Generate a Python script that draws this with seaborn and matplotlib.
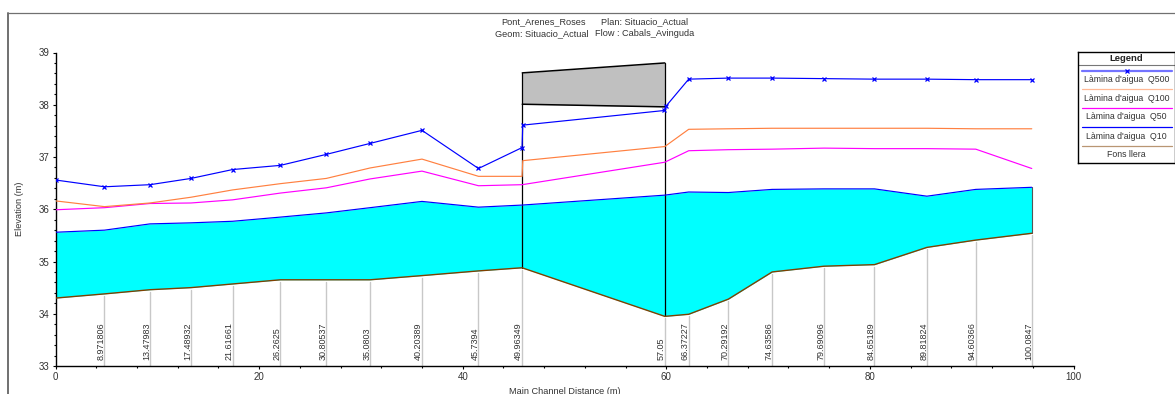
import matplotlib
matplotlib.use('Agg')
import matplotlib.pyplot as plt
import pandas as pd
import seaborn as sns
from matplotlib.ticker import MultipleLocator

# channel distance of each section, two entries either side of the bridge
dist_q500 = [0, 4.81, 9.28, 13.31, 17.4, 22.1, 26.6, 30.9, 36.0, 41.55, 45.83, 45.9,
             59.8, 60.0, 62.2, 66.1, 70.4, 75.5, 80.45, 85.6, 90.4, 95.9]
q500 = [36.56, 36.43, 36.47, 36.59, 36.76, 36.84, 37.05, 37.26, 37.51, 36.78, 37.18, 37.61,
        37.89, 37.98, 38.49, 38.51, 38.51, 38.5, 38.49, 38.49, 38.48, 38.48]

dist_q100 = [0, 4.81, 9.28, 13.31, 17.4, 22.1, 26.6, 30.9, 36.0, 41.55, 45.83, 45.9,
             59.85, 62.2, 66.1, 70.4, 75.5, 80.45, 85.6, 90.4, 95.9]
q100 = [36.16, 36.05, 36.12, 36.23, 36.37, 36.49, 36.59, 36.79, 36.96, 36.63, 36.63, 36.93,
        37.2, 37.53, 37.54, 37.55, 37.55, 37.55, 37.55, 37.54, 37.54]

dist_main = [0, 4.81, 9.28, 13.31, 17.4, 22.1, 26.6, 30.9, 36.0, 41.55, 45.83,
             59.85, 62.2, 66.1, 70.4, 75.5, 80.45, 85.6, 90.4, 95.9]
q50 = [35.99, 36.03, 36.11, 36.12, 36.18, 36.31, 36.41, 36.58, 36.73, 36.45, 36.47,
       36.9, 37.12, 37.14, 37.15, 37.17, 37.16, 37.16, 37.15, 36.78]
q10 = [35.56, 35.6, 35.72, 35.74, 35.77, 35.85, 35.93, 36.03, 36.15, 36.04, 36.08,
       36.27, 36.33, 36.32, 36.38, 36.39, 36.39, 36.25, 36.38, 36.42]
ground = [34.3, 34.38, 34.46, 34.5, 34.57, 34.65, 34.65, 34.65, 34.73, 34.82, 34.88,
          33.95, 33.99, 34.28, 34.8, 34.91, 34.94, 35.27, 35.41, 35.54]

# river stations written along the bottom, first section has none
station_labels = ['8.971806', '13.47983', '17.48932', '21.61661', '26.2625', '30.80537',
                  '35.0803', '40.20389', '45.7394', '49.96349', '57.05', '66.37227',
                  '70.29192', '74.63586', '79.69096', '84.65189', '89.81824', '94.60366',
                  '100.0847']

bridge_x = [45.85, 59.85]
deck_top = [38.61, 38.8]
deck_bottom = [38.01, 37.96]

series_names = ["Làmina d'aigua  Q500", "Làmina d'aigua  Q100", "Làmina d'aigua  Q50",
                "Làmina d'aigua  Q10", 'Fons llera']
series_colors = ['#0000ff', '#ff8040', '#ff00ff', '#0000ff', '#804000']

W, H = 1175, 394
sns.set_theme(style='white')
plt.rcParams['font.family'] = ['Liberation Sans', 'DejaVu Sans']
text_col = '#333333'

fig = plt.figure(figsize=(W / 100, H / 100), dpi=100)
ax = fig.add_axes([55.5 / W, 1 - 366 / H, 1018 / W, 313.5 / H])

# water surface fill and bed
ax.fill_between(dist_main, ground, q10, color='#00ffff', lw=0, zorder=1)
df = pd.DataFrame({'x': dist_main, 'q50': q50, 'q10': q10, 'ground': ground})
sns.lineplot(data=df, x='x', y='q50', color=series_colors[2], lw=0.85, estimator=None, sort=False, ax=ax, zorder=4)
sns.lineplot(data=df, x='x', y='q10', color=series_colors[3], lw=0.85, estimator=None, sort=False, ax=ax, zorder=4)
sns.lineplot(data=df, x='x', y='ground', color=series_colors[4], lw=1, estimator=None, sort=False, ax=ax, zorder=4)
sns.lineplot(x=dist_q100, y=q100, color=series_colors[1], lw=0.85, estimator=None, sort=False, ax=ax, zorder=4)
sns.lineplot(x=dist_q500, y=q500, color=series_colors[0], lw=0.85, estimator=None, sort=False,
             marker='x', markersize=2.6, markeredgewidth=0.9, markeredgecolor=series_colors[0], ax=ax, zorder=5)
ax.plot([95.9, 95.9], [ground[-1], q10[-1]], color='#555555', lw=0.8, zorder=3)

# bridge deck and piers
ax.fill_between(bridge_x, deck_bottom, deck_top, color='#c0c0c0', lw=0, zorder=2)
ax.plot(bridge_x, deck_top, color='black', lw=1.1, zorder=3)
ax.plot(bridge_x, deck_bottom, color='black', lw=1.1, zorder=3)
for bx, top, bed in zip(bridge_x, deck_top, [34.88, 33.95]):
    ax.plot([bx, bx], [bed, top], color='black', lw=0.9, zorder=3)

# station lines and labels
for x, bed, label in zip(dist_main[1:], ground[1:], station_labels):
    ax.plot([x, x], [33, bed - 0.04], color='#c8c8c8', lw=1, zorder=1)
    ax.text(x + 0.12, 33.12, label, rotation=90, ha='right', va='bottom', fontsize=6.5, color=text_col)

ax.set_xlim(0, 100)
ax.set_ylim(33, 39)
ax.xaxis.set_major_locator(MultipleLocator(20))
ax.xaxis.set_minor_locator(MultipleLocator(4))
ax.yaxis.set_major_locator(MultipleLocator(1))
ax.yaxis.set_minor_locator(MultipleLocator(0.2))
ax.tick_params(which='both', bottom=True, left=True, direction='out', color='black',
               length=2.2, width=0.8, labelsize=7, labelcolor=text_col, pad=2)
ax.tick_params(which='minor', length=1.6)
ax.set_xlabel('Main Channel Distance (m)', fontsize=6.6, color=text_col, labelpad=3.5)
ax.set_ylabel('Elevation (m)', fontsize=6.6, color=text_col, labelpad=11)
for side in ['top', 'right']:
    ax.spines[side].set_visible(False)
for side in ['left', 'bottom']:
    ax.spines[side].set_color('black')
    ax.spines[side].set_linewidth(1)

fig.text(544 / W, 1 - 22 / H, 'Pont_Arenes_Roses', ha='center', va='center', fontsize=6.6, color=text_col)
fig.text(645 / W, 1 - 22 / H, 'Plan: Situacio_Actual', ha='center', va='center', fontsize=6.6, color=text_col)
fig.text(541.5 / W, 1 - 34 / H, 'Geom: Situacio_Actual', ha='center', va='center', fontsize=6.6, color=text_col)
fig.text(644.5 / W, 1 - 34 / H, 'Flow : Cabals_Avinguda', ha='center', va='center', fontsize=6.6, color=text_col)

# outer frame of the window, only top and left show
fig.add_artist(plt.Line2D([8 / W, 8 / W], [0, 1 - 12.5 / H], color='#707070', lw=1.4))
fig.add_artist(plt.Line2D([8 / W, 1], [1 - 12.5 / H, 1 - 12.5 / H], color='#707070', lw=0.9))

# legend drawn as a small table
lax = fig.add_axes([1078 / W, 1 - 163 / H, 96.5 / W, 111.5 / H])
lax.set_xlim(0, 96.5)
lax.set_ylim(111.5, 0)
lax.set_xticks([])
lax.set_yticks([])
for s in lax.spines.values():
    s.set_color('black')
    s.set_linewidth(1)
lax.set_facecolor('white')
lax.text(48.5, 6.5, 'Legend', ha='center', va='center', fontsize=6.8, fontweight='bold', color='#222222')
lax.plot([0, 96.5], [13.5, 13.5], color='#777777', lw=0.8)
row_y = [19.2, 37.8, 56.5, 75.8, 94.2]
row_lw = [1.6, 0.9, 0.9, 0.9, 0.9]
for i, (name, col, y, lw) in enumerate(zip(series_names, series_colors, row_y, row_lw)):
    lax.plot([4, 94], [y, y], color=col, lw=lw, alpha=0.55 if i in (0, 1, 4) else 1)
    lax.text(48.5, y + 8.7, name, ha='center', va='center', fontsize=6.3, color=text_col)
lax.plot([48.5], [row_y[0]], marker='x', ms=2.6, mew=0.9, color=series_colors[0])

fig.savefig('out.png', dpi=100)
